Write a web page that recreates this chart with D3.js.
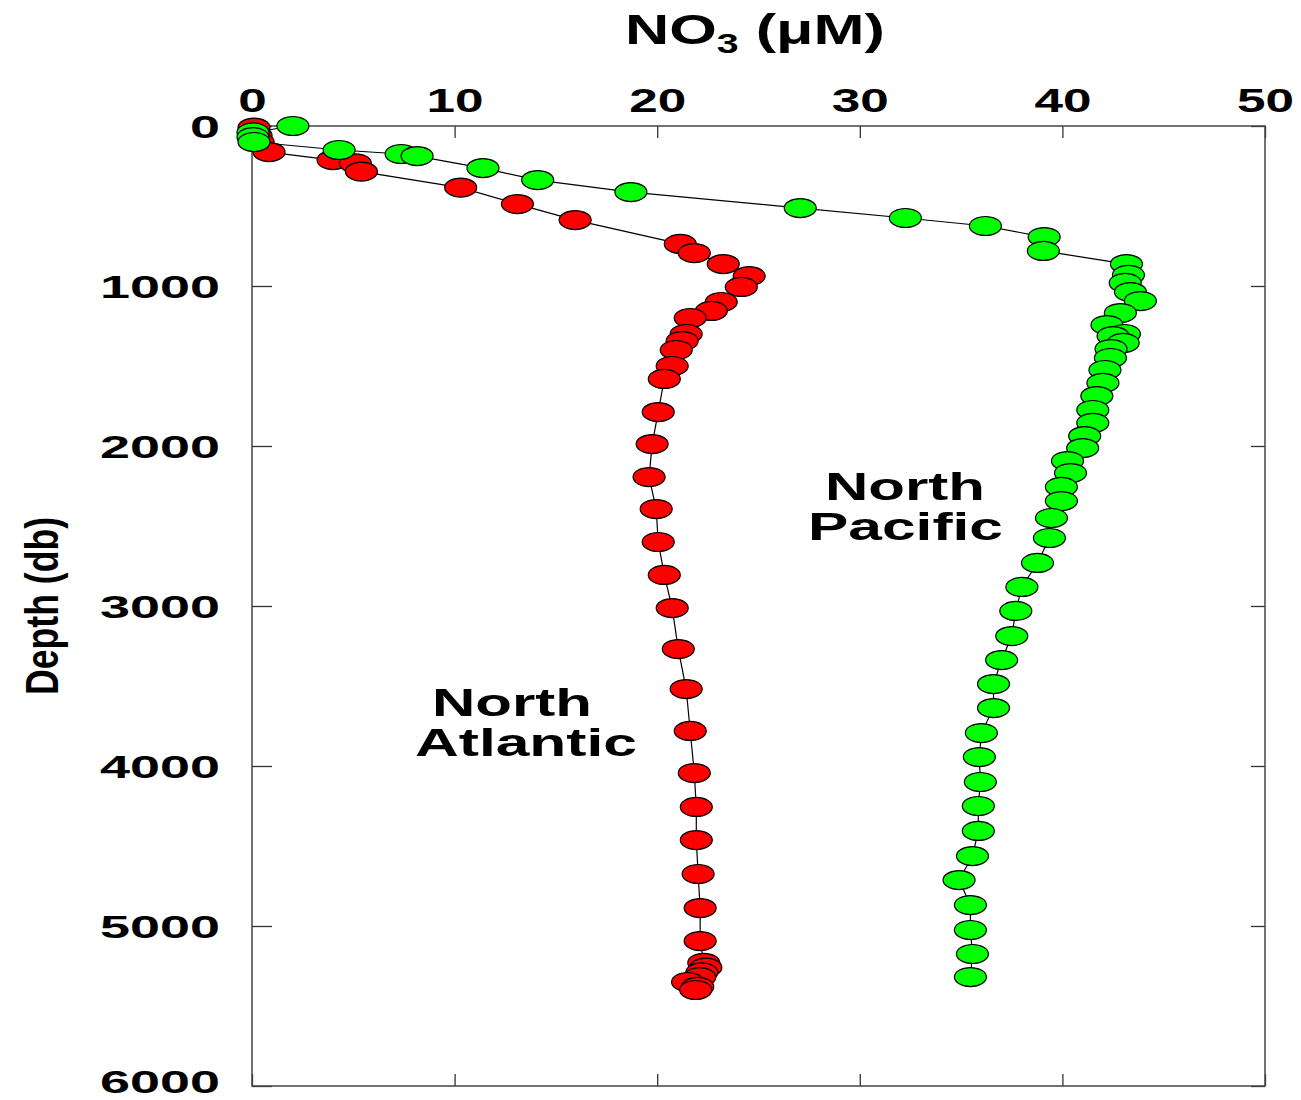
<!DOCTYPE html>
<html>
<head>
<meta charset="utf-8">
<script src="https://cdn.jsdelivr.net/npm/d3@7"></script>
<style>
  html, body { margin: 0; padding: 0; background: #fff; }
  svg { display: block; }
  text { font-family: "Liberation Sans", Arial, sans-serif; font-weight: bold; fill: #000; }
</style>
</head>
<body>
<svg id="chart" width="1301" height="1100"></svg>
<script>
// ---- Data (NO3 in µM, depth in db) ----
const atlanticNO3 = [0.1, 0.2, 0.3, 0.84, 4.0, 5.1, 5.4, 10.3, 13.1, 15.95, 21.14, 21.83, 23.26, 24.54, 24.15, 23.16, 22.67, 21.63, 21.43, 21.23, 20.94, 20.74, 20.35, 20.05, 19.75, 19.6, 19.95, 20.05, 20.35, 20.74, 21.04, 21.43, 21.63, 21.83, 21.93, 21.93, 22.02, 22.12, 22.12, 22.3, 22.4, 22.2, 22.1, 21.5, 22.0, 21.9];
const atlanticDepth = [10, 60, 100, 163, 213, 233, 285, 385, 488, 588, 737, 794, 863, 938, 1006, 1100, 1156, 1200, 1300, 1344, 1400, 1500, 1581, 1788, 1988, 2194, 2394, 2600, 2806, 3013, 3269, 3519, 3781, 4044, 4256, 4463, 4675, 4888, 5094, 5230, 5260, 5290, 5320, 5350, 5380, 5400];

const pacificNO3 = [2.02, 0.05, 0.05, 0.1, 4.3, 7.36, 8.15, 11.4, 14.1, 18.7, 27.06, 32.25, 36.2, 39.1, 39.06, 43.16, 43.26, 43.1, 43.36, 43.85, 42.86, 42.2, 43.06, 42.5, 43.0, 42.4, 42.37, 42.1, 42.0, 41.7, 41.5, 41.5, 41.1, 41.0, 40.25, 40.4, 39.95, 39.95, 39.46, 39.36, 38.77, 38.0, 37.7, 37.5, 37.0, 36.6, 36.6, 36.0, 35.9, 35.95, 35.85, 35.85, 35.56, 34.9, 35.46, 35.46, 35.56, 35.46];
const pacificDepth = [0, 40, 70, 100, 150, 175, 188, 263, 338, 413, 513, 575, 625, 694, 781, 863, 931, 981, 1038, 1094, 1169, 1244, 1300, 1313, 1356, 1394, 1450, 1525, 1606, 1688, 1775, 1856, 1938, 2013, 2094, 2169, 2256, 2344, 2450, 2575, 2731, 2881, 3031, 3188, 3338, 3488, 3638, 3794, 3944, 4100, 4250, 4406, 4563, 4713, 4869, 5025, 5175, 5319];

const xTicks = [0, 10, 20, 30, 40, 50];
const yTicks = [0, 1000, 2000, 3000, 4000, 5000, 6000];

const seriesNames = ["North Atlantic", "North Pacific"];
const seriesColors = ["#ff0000", "#00ff00"];

// ---- Layout ----
const svg = d3.select("#chart");
const L = 252, R = 1265, T = 126, B = 1086;
const x = d3.scaleLinear().domain([0, 50]).range([L, R]);
const y = d3.scaleLinear().domain([0, 6000]).range([T, B]);

function fitWidth(sel, w) {
  sel.attr("textLength", w).attr("lengthAdjust", "spacingAndGlyphs");
}

// Top axis with labels
const gTop = svg.append("g").attr("transform", `translate(0,${T})`)
  .call(d3.axisTop(x).tickValues(xTicks).tickSizeInner(-12).tickSizeOuter(0).tickPadding(14).tickFormat(d3.format("d")));
gTop.select(".domain").remove();
gTop.selectAll(".tick line").attr("stroke", "#333").attr("stroke-width", 1.3);
gTop.selectAll(".tick text").attr("font-size", 34).attr("font-family", "Liberation Sans, Arial, sans-serif")
  .attr("font-weight", "bold").attr("fill", "#000")
  .each(function(d) { const s = String(d); fitWidth(d3.select(this), 28.5 * s.length); });

// Left axis with labels
const gLeft = svg.append("g").attr("transform", `translate(${L},0)`)
  .call(d3.axisLeft(y).tickValues(yTicks).tickSizeInner(-20).tickSizeOuter(0).tickPadding(32).tickFormat(d3.format("d")));
gLeft.select(".domain").remove();
gLeft.selectAll(".tick line").attr("stroke", "#333").attr("stroke-width", 1.3);
gLeft.selectAll(".tick text").attr("font-size", 32).attr("font-family", "Liberation Sans, Arial, sans-serif")
  .attr("font-weight", "bold").attr("fill", "#000")
  .attr("dy", d => d === 6000 ? "0.2em" : "0.36em")
  .each(function(d) { const s = String(d); fitWidth(d3.select(this), 30 * s.length); });

// Right and bottom axes (ticks only)
const gRight = svg.append("g").attr("transform", `translate(${R},0)`)
  .call(d3.axisRight(y).tickValues(yTicks).tickSizeInner(-14).tickSizeOuter(0).tickFormat(""));
gRight.select(".domain").remove();
gRight.selectAll(".tick line").attr("stroke", "#333").attr("stroke-width", 1.3);
const gBottom = svg.append("g").attr("transform", `translate(0,${B})`)
  .call(d3.axisBottom(x).tickValues(xTicks).tickSizeInner(-12).tickSizeOuter(0).tickFormat(""));
gBottom.select(".domain").remove();
gBottom.selectAll(".tick line").attr("stroke", "#333").attr("stroke-width", 1.3);

// Frame
svg.append("rect").attr("x", L).attr("y", T).attr("width", R - L).attr("height", B - T)
  .attr("fill", "none").attr("stroke", "#444").attr("stroke-width", 1.5);

// Series
const series = [
  { name: seriesNames[0], color: seriesColors[0], pts: atlanticNO3.map((v, i) => [v, atlanticDepth[i]]) },
  { name: seriesNames[1], color: seriesColors[1], pts: pacificNO3.map((v, i) => [v, pacificDepth[i]]) }
];
const line = d3.line().x(d => x(d[0])).y(d => y(d[1]));

series.forEach(s => {
  svg.append("path").datum(s.pts).attr("d", line)
    .attr("fill", "none").attr("stroke", "#000").attr("stroke-width", 1.2);
});
series.forEach(s => {
  svg.append("g").selectAll("ellipse").data(s.pts).join("ellipse")
    .attr("cx", d => x(d[0])).attr("cy", d => y(d[1]))
    .attr("rx", 16).attr("ry", 9.5)
    .attr("fill", s.color).attr("stroke", "#000").attr("stroke-width", 1.2);
});

// Series labels
function label(txt, xl, base, w) {
  svg.append("text").attr("x", xl).attr("y", base).attr("font-size", 39)
    .text(txt).call(fitWidth, w);
}
label("North", 825, 500, 160);
label("Pacific", 808, 540, 195);
label("North", 432, 716, 160);
label("Atlantic", 415, 756, 222);

// Title
const title = svg.append("text").attr("x", 0).attr("y", 0).attr("font-size", 42);
title.append("tspan").text("NO");
title.append("tspan").text("3").attr("font-size", 27).attr("dy", 9);
title.append("tspan").text(" (μM)").attr("dy", -9);
const tb = title.node().getBBox();
const sx = 260 / tb.width;
title.attr("transform", `translate(${625 - tb.x * sx},44) scale(${sx},1)`);

// Y axis title
svg.append("text").attr("transform", "translate(58,606) rotate(-90)")
  .attr("text-anchor", "middle").attr("font-size", 47)
  .text("Depth (db)").call(fitWidth, 178);
</script>
</body>
</html>
